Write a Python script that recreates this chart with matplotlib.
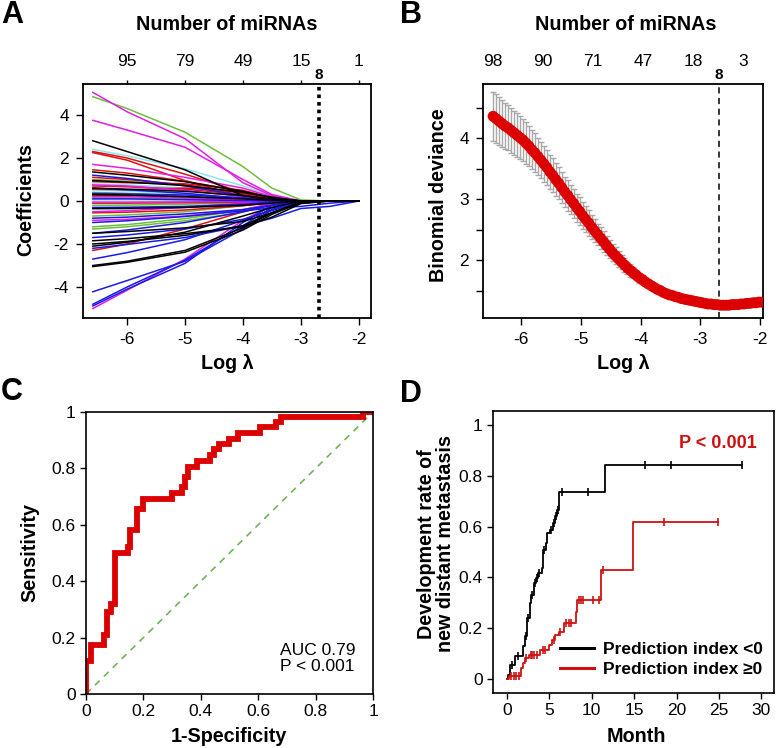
import numpy as np
import matplotlib
matplotlib.use('Agg')
import matplotlib.pyplot as plt

plt.rcParams['font.family'] = ['Liberation Sans', 'DejaVu Sans']

W, H = 776, 748

# ---------------- Panel A: LASSO coefficient paths ----------------
coef_loglam = [-6.59, -6.0, -5.0, -4.0, -3.5, -3.0, -2.5, -2.0]
paths_black = [
    [2.80, 2.30, 1.45, 0.25, 0.05, 0, 0, 0],
    [1.35, 1.20, 0.90, 0.45, 0.15, 0, 0, 0],
    [0.95, 0.88, 0.72, 0.40, 0.18, 0, 0, 0],
    [0.60, 0.55, 0.45, 0.25, 0.10, 0, 0, 0],
    [0.30, 0.28, 0.20, 0.10, 0.03, 0, 0, 0],
    [-0.35, -0.34, -0.30, -0.20, -0.10, 0, 0, 0],
    [-1.50, -1.42, -1.25, -0.95, -0.55, -0.10, 0, 0],
    [-1.85, -1.75, -1.52, -1.20, -0.75, -0.12, 0, 0],
    [-2.00, -1.88, -1.60, -1.15, -0.55, -0.05, 0, 0],
    [-2.10, -1.92, -1.45, -0.70, -0.30, 0, 0, 0],
    [-3.00, -2.80, -2.30, -1.25, -0.55, -0.05, 0, 0],
    [-3.05, -2.85, -2.38, -1.35, -0.62, -0.08, 0, 0],
]
paths_red = [
    [2.30, 2.00, 1.25, 0.40, 0.10, 0, 0, 0],
    [2.25, 1.90, 0.95, 0.20, 0.02, 0, 0, 0],
    [1.45, 1.30, 0.92, 0.45, 0.15, 0, 0, 0],
    [1.10, 1.00, 0.75, 0.35, 0.12, 0, 0, 0],
    [0.90, 0.85, 0.80, 0.50, 0.15, 0, 0, 0],
    [0.70, 0.66, 0.55, 0.30, 0.10, 0, 0, 0],
    [0.55, 0.52, 0.60, 0.45, 0.12, 0, 0, 0],
    [0.25, 0.24, 0.20, 0.12, 0.04, 0, 0, 0],
    [-0.10, -0.10, -0.08, -0.05, -0.02, 0, 0, 0],
    [-0.55, -0.52, -0.42, -0.22, -0.08, 0, 0, 0],
    [-2.30, -2.00, -1.30, -0.50, -0.12, 0, 0, 0],
]
paths_green = [
    [4.85, 4.30, 3.20, 1.60, 0.60, 0.05, 0, 0],
    [1.00, 0.92, 0.75, 0.20, 0.02, 0, 0, 0],
    [0.40, 0.36, 0.22, 0.06, 0, 0, 0, 0],
    [0.15, 0.14, 0.10, 0.04, 0.01, 0, 0, 0],
    [-0.20, -0.19, -0.15, -0.08, -0.02, 0, 0, 0],
    [-0.70, -0.65, -0.50, -0.22, -0.05, 0, 0, 0],
    [-1.20, -1.10, -0.82, -0.42, -0.12, 0, 0, 0],
    [-1.30, -1.20, -0.92, -0.52, -0.16, 0, 0, 0],
]
paths_blue = [
    [1.20, 1.05, 0.70, 0.25, 0.05, 0, 0, 0],
    [0.60, 0.52, 0.36, 0.12, 0.02, 0, 0, 0],
    [0.35, 0.33, 0.28, 0.15, 0.05, 0, 0, 0],
    [0.10, 0.10, 0.06, 0.02, 0, 0, 0, 0],
    [-0.30, -0.29, -0.25, -0.15, -0.05, 0, 0, 0],
    [-0.80, -0.75, -0.60, -0.40, -0.20, 0, 0, 0],
    [-1.00, -0.92, -0.72, -0.46, -0.32, -0.25, -0.10, 0],
    [-1.50, -1.35, -1.00, -0.50, -0.20, 0, 0, 0],
    [-1.70, -1.58, -1.30, -0.85, -0.45, -0.05, 0, 0],
    [-2.20, -2.02, -1.70, -1.15, -0.80, -0.35, -0.25, 0],
    [-2.70, -2.40, -1.80, -0.90, -0.40, 0, 0, 0],
    [-4.22, -3.70, -2.80, -1.30, -0.40, 0, 0, 0],
    [-4.80, -4.00, -2.75, -1.15, -0.30, 0, 0, 0],
    [-4.88, -4.10, -2.90, -1.00, -0.20, 0, 0, 0],
]
paths_cyan = [
    [2.40, 2.10, 1.50, 0.70, 0.25, 0, 0, 0],
    [0.80, 0.75, 0.60, 0.30, 0.08, 0, 0, 0],
    [0.50, 0.46, 0.32, 0.10, 0.02, 0, 0, 0],
    [0.05, 0.05, 0.04, 0.02, 0, 0, 0, 0],
    [-0.40, -0.38, -0.30, -0.15, -0.04, 0, 0, 0],
]
paths_magenta = [
    [5.05, 4.15, 2.90, 0.85, 0.25, 0, 0, 0],
    [3.75, 3.30, 2.50, 1.00, 0.30, 0, 0, 0],
    [1.70, 1.52, 1.10, 0.60, 0.20, 0, 0, 0],
    [0.75, 0.70, 0.50, 0.20, 0.05, 0, 0, 0],
    [0.20, 0.20, 0.15, 0.05, 0.01, 0, 0, 0],
    [-0.05, -0.05, -0.04, -0.02, 0, 0, 0, 0],
    [-0.50, -0.45, -0.30, -0.10, -0.02, 0, 0, 0],
    [-0.90, -0.85, -0.70, -0.40, -0.12, 0, 0, 0],
    [-5.00, -4.15, -2.70, -0.90, -0.20, 0, 0, 0],
]
topA_pos = [-6, -5, -4, -3, -2]
topA_labels = ['95', '79', '49', '15', '1']
loglam_min = -2.69
n_selected = '8'

# ---------------- Panel B: cross-validation curve ----------------
cv_start, cv_end = -6.47, -1.97
cv_dev = [4.36, 4.32, 4.28, 4.24, 4.20, 4.17, 4.13, 4.09, 4.05, 4.01,
          3.97, 3.92, 3.87, 3.81, 3.76, 3.70, 3.64, 3.58, 3.52, 3.45,
          3.39, 3.32, 3.26, 3.19, 3.12, 3.06, 2.99, 2.93, 2.86, 2.80,
          2.73, 2.67, 2.61, 2.54, 2.48, 2.42, 2.36, 2.30, 2.24, 2.18,
          2.12, 2.07, 2.02, 1.97, 1.92, 1.87, 1.83, 1.79, 1.75, 1.71,
          1.68, 1.64, 1.61, 1.58, 1.55, 1.52, 1.50, 1.47, 1.45, 1.43,
          1.42, 1.40, 1.39, 1.37, 1.36, 1.35, 1.34, 1.33, 1.32, 1.31,
          1.30, 1.29, 1.28, 1.28, 1.27, 1.27, 1.26, 1.26, 1.26, 1.26,
          1.27, 1.27, 1.27, 1.28, 1.28, 1.29, 1.29, 1.30, 1.30, 1.31, 1.31]
cv_se = [0.40, 0.40, 0.39, 0.39, 0.38, 0.37, 0.37, 0.36, 0.36, 0.35,
         0.34, 0.34, 0.33, 0.32, 0.32, 0.31, 0.30, 0.30, 0.29, 0.28,
         0.28, 0.27, 0.26, 0.26, 0.25, 0.25, 0.24, 0.24, 0.23, 0.23,
         0.22, 0.21, 0.21, 0.20, 0.19, 0.18, 0.18, 0.17, 0.16, 0.15,
         0.14, 0.14, 0.13, 0.12, 0.11, 0.10, 0.10, 0.09, 0.08, 0.08,
         0.07, 0.07, 0.06, 0.06, 0.05, 0.05, 0.05, 0.04, 0.04, 0.04,
         0.035, 0.035, 0.03, 0.03, 0.03, 0.03, 0.025, 0.025, 0.025, 0.025,
         0.02, 0.02, 0.02, 0.02, 0.02, 0.02, 0.02, 0.02, 0.02, 0.02,
         0.02, 0.02, 0.02, 0.02, 0.02, 0.02, 0.02, 0.02, 0.02, 0.02, 0.02]
topB_pos = [-6.47, -5.63, -4.80, -3.96, -3.12, -2.28]
topB_labels = ['98', '90', '71', '47', '18', '3']

# ---------------- Panel C: ROC ----------------
roc_fpr = [0, 0, 0.017, 0.064, 0.072, 0.087, 0.102, 0.145, 0.154, 0.177, 0.197,
           0.298, 0.333, 0.345, 0.354, 0.386, 0.432, 0.447, 0.462, 0.497, 0.53,
           0.606, 0.662, 0.681, 0.966, 1.0]
roc_tpr = [0, 0.117, 0.173, 0.21, 0.29, 0.32, 0.50, 0.52, 0.58, 0.655, 0.693,
           0.714, 0.735, 0.77, 0.805, 0.825, 0.846, 0.87, 0.885, 0.905, 0.925,
           0.946, 0.966, 0.983, 1.0, 1.0]
auc_text = 'AUC 0.79\nP < 0.001'

# ---------------- Panel D: cumulative incidence ----------------
low_times = [0, 0.08, 0.39, 0.98, 1.85, 2.08, 2.36, 2.67, 2.83, 3.15, 3.42, 3.66,
             4.13, 4.25, 4.64, 4.72, 5.11, 5.39, 5.62, 5.90, 6.17, 11.6, 27.7]
low_rates = [0, 0.017, 0.056, 0.089, 0.13, 0.168, 0.24, 0.30, 0.33, 0.377, 0.397,
             0.417, 0.436, 0.508, 0.535, 0.574, 0.587, 0.613, 0.64, 0.666, 0.738,
             0.843, 0.843]
low_censor = [0.6, 1.3, 2.2, 2.45, 2.9, 3.25, 3.5, 3.8, 4.4, 5.2, 5.5, 5.75,
              6.0, 6.5, 9.6, 16.3, 19.4, 27.7]
high_times = [0, 0.25, 1.65, 1.90, 2.16, 2.56, 3.93, 5.0, 5.3, 5.7, 6.1, 6.7,
              8.2, 8.3, 11.1, 14.9, 24.9]
high_rates = [0, 0.01, 0.043, 0.063, 0.083, 0.096, 0.115, 0.135, 0.155, 0.174,
              0.187, 0.22, 0.262, 0.312, 0.43, 0.62, 0.62]
high_censor = [0.5, 0.8, 1.1, 1.4, 2.3, 2.8, 3.0, 3.2, 3.5, 4.3, 4.5, 5.5, 6.3,
               7.0, 7.3, 7.6, 8.5, 8.7, 9.0, 10.2, 10.8, 11.3, 18.5, 24.9]
legend_labels = ['Prediction index <0', 'Prediction index \u22650']
km_p_text = 'P < 0.001'

# ---------------- helpers ----------------
fig = plt.figure(figsize=(W / 100, H / 100), dpi=100)


def px_axes(x0, y0, x1, y1):
    return fig.add_axes([x0 / W, 1 - y1 / H, (x1 - x0) / W, (y1 - y0) / H])


def ftext(x, y, s, **kw):
    fig.text(x / W, 1 - y / H, s, **kw)


TICK = 12.5
LAB = 14.2

col_black = '#000000'
col_red = '#DD1111'
col_green = '#6DBE3C'
col_blue = '#1A1AE6'
col_cyan = '#8BE6F2'
col_mag = '#E21EE2'

# ---------------- Panel A ----------------
axA = px_axes(83, 84, 371, 318)
for paths, c in [(paths_cyan, col_cyan), (paths_green, col_green),
                 (paths_red, col_red), (paths_magenta, col_mag),
                 (paths_blue, col_blue), (paths_black, col_black)]:
    for p in paths:
        axA.plot(coef_loglam, p, color=c, lw=1.1)
axA.axvline(loglam_min, color='k', lw=2.6, ls=(0, (1, 1.1)))
axA.set_xlim(-6.76, -1.79)
axA.set_ylim(-5.44, 5.44)
axA.set_xticks([-6, -5, -4, -3, -2])
axA.set_xticklabels(['-6', '-5', '-4', '-3', '-2'])
axA.set_yticks([-4, -2, 0, 2, 4])
axA.set_yticklabels(['-4', '-2', '0', '2', '4'])
secA = axA.secondary_xaxis('top')
secA.set_xticks(topA_pos)
secA.set_xticklabels(topA_labels)
secA.tick_params(length=3, width=1, pad=8, labelsize=TICK)
for sp in secA.spines.values():
    sp.set_visible(False)
axA.text(loglam_min, 1.01, n_selected, transform=axA.get_xaxis_transform(),
         ha='center', va='bottom', fontsize=11, fontweight='bold')

# ---------------- Panel B ----------------
axB = px_axes(483, 84, 763, 318)
cv_x = np.linspace(cv_start, cv_end, len(cv_dev))
axB.errorbar(cv_x, cv_dev, yerr=cv_se, fmt='none', ecolor='#A8A8A8', elinewidth=1.0,
             capsize=2.2, capthick=1.0, zorder=1)
axB.scatter(cv_x, cv_dev, s=62, color='#DD0000', edgecolors='none', zorder=3)
axB.axvline(loglam_min, color='k', lw=1.1, ls=(0, (4, 3)))
axB.set_xlim(-6.64, -1.95)
axB.set_ylim(1.05, 4.89)
axB.set_xticks([-6, -5, -4, -3, -2])
axB.set_xticklabels(['-6', '-5', '-4', '-3', '-2'])
axB.set_yticks([1.5, 2, 2.5, 3, 3.5, 4, 4.5])
axB.set_yticklabels(['', '2', '', '3', '', '4', ''])
secB = axB.secondary_xaxis('top')
secB.set_xticks(topB_pos)
secB.set_xticklabels(topB_labels)
secB.tick_params(length=0, pad=11, labelsize=TICK)
for sp in secB.spines.values():
    sp.set_visible(False)
axB.text(loglam_min, 1.01, n_selected, transform=axB.get_xaxis_transform(),
         ha='center', va='bottom', fontsize=11, fontweight='bold')

for ax in (axA, axB):
    ax.tick_params(direction='out', length=5, width=1, pad=5, labelsize=TICK)
    for sp in ax.spines.values():
        sp.set_linewidth(1.3)

# ---------------- Panel C ----------------
axC = px_axes(86, 412, 373, 694)
axC.plot([0, 1], [0, 1], color='#6FB35A', lw=1.2, ls=(0, (4, 3.5)), zorder=1)
axC.step(roc_fpr, roc_tpr, where='post', color='#DD0000', lw=4.2, zorder=2,
         solid_joinstyle='miter')
axC.set_xlim(0, 1)
axC.set_ylim(0, 1)
ticks = [0, 0.2, 0.4, 0.6, 0.8, 1]
tlabs = ['0', '0.2', '0.4', '0.6', '0.8', '1']
axC.set_xticks(ticks)
axC.set_xticklabels(tlabs)
axC.set_yticks(ticks)
axC.set_yticklabels(tlabs)
axC.text(0.675, 0.18, auc_text, transform=axC.transAxes, ha='left', va='top',
         fontsize=TICK, linespacing=1.05)
axC.tick_params(direction='out', length=4.5, width=1, pad=3, labelsize=TICK)
for sp in axC.spines.values():
    sp.set_linewidth(1.2)

# ---------------- Panel D ----------------
axD = px_axes(493, 411, 774, 693)
axD.step(low_times, low_rates, where='post', color='k', lw=1.3,
         label=legend_labels[0])
axD.step(high_times, high_rates, where='post', color='#D01010', lw=1.3,
         label=legend_labels[1])


def censor_y(times, rates, tc):
    idx = np.searchsorted(times, tc, side='right') - 1
    return np.asarray(rates)[idx]


axD.plot(low_censor, censor_y(low_times, low_rates, low_censor), ls='none',
         marker='|', ms=6, mew=1.2, color='k')
axD.plot(high_censor, censor_y(high_times, high_rates, high_censor), ls='none',
         marker='|', ms=6, mew=1.2, color='#D01010')
axD.set_xlim(-1.65, 31.5)
axD.set_ylim(-0.055, 1.055)
axD.set_xticks([0, 5, 10, 15, 20, 25, 30])
axD.set_yticks(ticks)
axD.set_yticklabels(tlabs)
axD.text(0.94, 0.885, km_p_text, transform=axD.transAxes, ha='right', va='center',
         fontsize=13, fontweight='bold', color='#D01010')
leg = axD.legend(loc='lower right', bbox_to_anchor=(770 / W, 1 - 684 / H),
                 bbox_transform=fig.transFigure, frameon=False,
                 prop={'weight': 'bold', 'size': 12.5}, handlelength=2.0,
                 handletextpad=0.5, labelspacing=0.3, borderaxespad=0)
for lh in leg.get_lines():
    lh.set_linewidth(2.2)
axD.tick_params(direction='out', length=4.5, width=1, pad=3, labelsize=TICK)
for sp in axD.spines.values():
    sp.set_linewidth(1.2)

# ---------------- labels ----------------
bold = dict(fontsize=LAB, fontweight='bold', ha='center', va='center')
ftext(227, 24, 'Number of miRNAs', **bold)
ftext(626, 24, 'Number of miRNAs', **bold)
ftext(227, 364, 'Log \u03bb', **bold)
ftext(623, 364, 'Log \u03bb', **bold)
ftext(26, 200, 'Coefficients', rotation=90, **bold)
ftext(438, 195, 'Binomial deviance', rotation=90, **bold)
ftext(30, 553, 'Sensitivity', rotation=90, **bold)
ftext(229, 736, '1-Specificity', **bold)
ftext(636, 736, 'Month', **bold)
ftext(436, 544, 'Development rate of\nnew distant metastasis', rotation=90,
      linespacing=1.0, **bold)

pl = dict(fontsize=22, fontweight='bold', ha='center', va='center')
ftext(12, 15, 'A', **pl)
ftext(411, 15, 'B', **pl)
ftext(12, 392, 'C', **pl)
ftext(411, 394, 'D', **pl)

fig.savefig('out.png', dpi=100)
